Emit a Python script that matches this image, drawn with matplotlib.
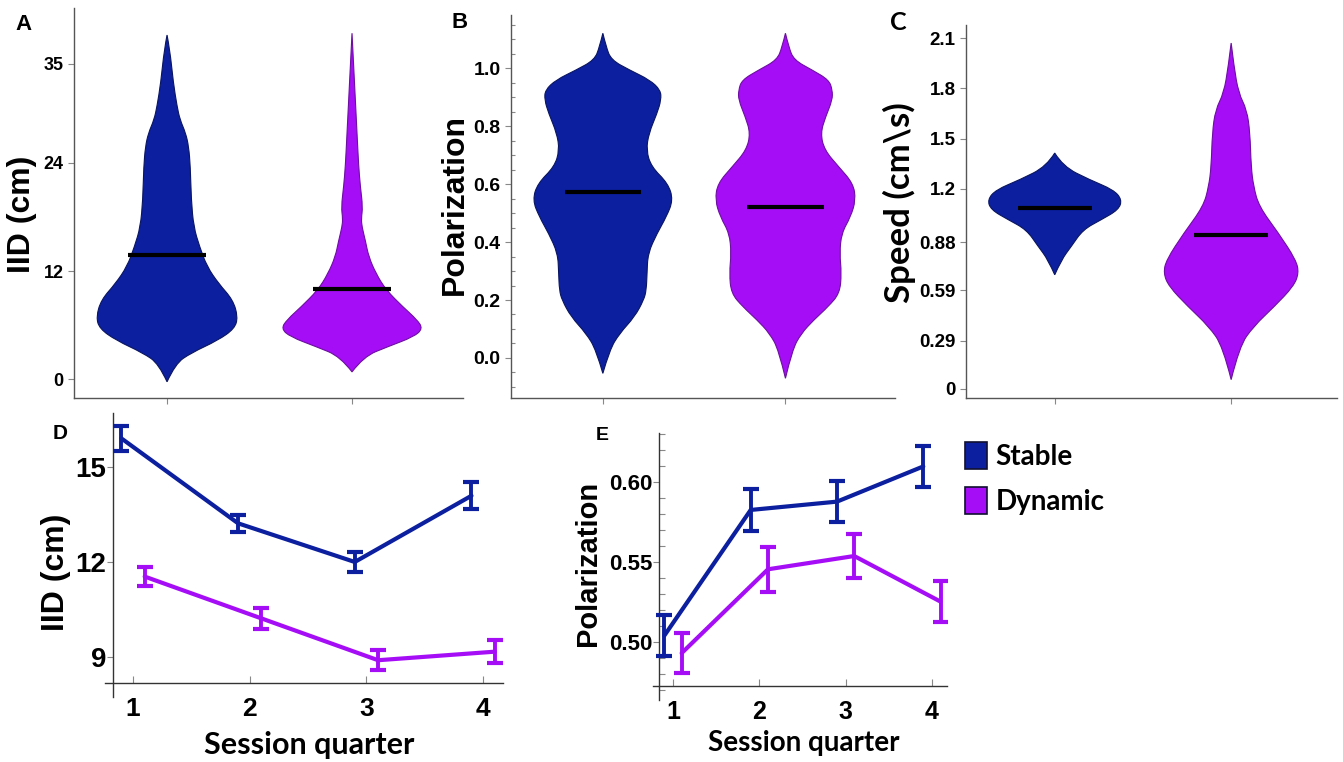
import matplotlib
matplotlib.use("Agg")
import matplotlib.pyplot as plt
import matplotlib.font_manager as fm
from matplotlib.path import Path
from matplotlib.patches import PathPatch, Patch
from matplotlib.ticker import MultipleLocator

# ---- data ----
groups = ["Stable", "Dynamic"]

# violin outlines: values (top -> bottom) and half widths (x units)
iid_stable_y = [38.2, 36.6, 32.9, 30.3, 28.8, 27.3, 25.8, 23.6, 19.9, 16.9, 14.7, 12.5,
                10.6, 8.8, 6.9, 5.6, 4.3, 2.9, 1.7, -0.3]
iid_stable_w = [0, 0.015, 0.034, 0.054, 0.070, 0.101, 0.117, 0.126, 0.131, 0.144, 0.176,
                0.216, 0.279, 0.356, 0.383, 0.365, 0.275, 0.130, 0.045, 0]
iid_dyn_y = [38.4, 34.7, 31.0, 27.3, 23.6, 21.4, 19.1, 17.8, 16.9, 15.4, 13.6, 11.7, 9.9,
             8.0, 6.6, 5.6, 4.7, 3.6, 2.5, 0.8]
iid_dyn_w = [0, 0.009, 0.018, 0.027, 0.036, 0.045, 0.058, 0.050, 0.054, 0.072, 0.090,
             0.130, 0.184, 0.276, 0.351, 0.383, 0.334, 0.194, 0.063, 0]
iid_means = [13.8, 10.0]

pol_stable_y = [1.120, 1.073, 1.028, 0.993, 0.959, 0.924, 0.890, 0.844, 0.775, 0.717, 0.660,
                0.602, 0.545, 0.487, 0.430, 0.361, 0.292, 0.234, 0.200, 0.142, 0.085, 0.028, -0.053]
pol_stable_w = [0, 0.018, 0.046, 0.147, 0.257, 0.316, 0.319, 0.297, 0.252, 0.238, 0.265,
                0.357, 0.385, 0.348, 0.297, 0.247, 0.242, 0.238, 0.224, 0.174, 0.092, 0.037, 0]
pol_dyn_y = [1.120, 1.073, 1.028, 0.993, 0.959, 0.924, 0.890, 0.832, 0.775, 0.717, 0.660,
             0.602, 0.545, 0.487, 0.430, 0.361, 0.292, 0.223, 0.177, 0.131, 0.085, 0.028, -0.070]
pol_dyn_w = [0, 0.018, 0.046, 0.147, 0.238, 0.257, 0.257, 0.220, 0.192, 0.214, 0.291,
             0.371, 0.385, 0.357, 0.307, 0.297, 0.307, 0.297, 0.234, 0.155, 0.087, 0.037, 0]
pol_means = [0.573, 0.522]

spd_stable_y = [1.413, 1.333, 1.253, 1.193, 1.134, 1.074, 1.014, 0.954, 0.854, 0.774, 0.684]
spd_stable_w = [0, 0.047, 0.198, 0.333, 0.381, 0.362, 0.264, 0.160, 0.094, 0.038, 0]
spd_dyn_y = [2.072, 1.932, 1.772, 1.672, 1.533, 1.333, 1.213, 1.093, 0.934, 0.774, 0.694,
             0.614, 0.494, 0.375, 0.255, 0.056]
spd_dyn_w = [0, 0.016, 0.042, 0.089, 0.107, 0.113, 0.127, 0.158, 0.268, 0.367, 0.384,
             0.353, 0.245, 0.127, 0.047, 0]
spd_means = [1.084, 0.92]
spd_ticks = [0, 0.29, 0.59, 0.88, 1.2, 1.5, 1.8, 2.1]
spd_ticklabels = ["0", "0.29", "0.59", "0.88", "1.2", "1.5", "1.8", "2.1"]

quarters = [1, 2, 3, 4]
iid_q_stable = [15.9, 13.22, 12.0, 14.09]
iid_q_stable_err = [0.4, 0.27, 0.33, 0.42]
iid_q_dyn = [11.54, 10.22, 8.9, 9.17]
iid_q_dyn_err = [0.3, 0.33, 0.32, 0.36]

pol_q_stable = [0.504, 0.5825, 0.5877, 0.6097]
pol_q_stable_err = [0.0127, 0.013, 0.013, 0.013]
pol_q_dyn = [0.493, 0.5454, 0.5537, 0.5252]
pol_q_dyn_err = [0.0127, 0.014, 0.014, 0.013]

# ---- style ----
BLUE = "#0B1F9F"
PURPLE = "#A60DF7"
BLUE_EDGE = "#0a1560"
PURPLE_EDGE = "#6c0fa0"
AXC = "#555555"

names = {f.name for f in fm.fontManager.ttflist}
ARIAL = "Liberation Sans"
NARROW = "Liberation Sans Narrow" if "Liberation Sans Narrow" in names else ARIAL
CAL = "Lato" if "Lato" in names else "DejaVu Sans"
narrow_ok = NARROW != ARIAL

W, H = 1343, 762
fig = plt.figure(figsize=(W / 100, H / 100), dpi=100)


def box(l, r, t, b):
    return [l / W, 1 - b / H, (r - l) / W, (b - t) / H]


def violin(ax, x0, ys, ws, fc, ec):
    right = [(x0 + w, y) for y, w in zip(ys, ws)]
    left = [(x0 - w, y) for y, w in zip(ys, ws)][::-1]
    top = (x0, ys[0])
    bot = (x0, ys[-1])
    verts = [top]
    codes = [Path.MOVETO]
    for side, end in ((right[1:-1], bot), (left[1:-1], top)):
        for i, q in enumerate(side):
            if i < len(side) - 1:
                nxt = ((q[0] + side[i + 1][0]) / 2, (q[1] + side[i + 1][1]) / 2)
            else:
                nxt = end
            verts += [q, nxt]
            codes += [Path.CURVE3, Path.CURVE3]
    verts.append(top)
    codes.append(Path.CLOSEPOLY)
    ax.add_patch(PathPatch(Path(verts, codes), fc=fc, ec=ec, lw=0.8, zorder=2))


def top_axes(rect, ylim):
    ax = fig.add_axes(rect)
    for s in ["top", "right"]:
        ax.spines[s].set_visible(False)
    for s in ["left", "bottom"]:
        ax.spines[s].set_color(AXC)
        ax.spines[s].set_linewidth(1.0)
    ax.set_xlim(0.497, 2.6)
    ax.set_ylim(*ylim)
    ax.set_xticks([1, 2])
    ax.set_xticklabels([])
    ax.tick_params(axis="both", which="major", direction="out", length=4, color="#888888", width=0.8)
    return ax


def violins(ax, data, means):
    for i, (ys, ws) in enumerate(data):
        fc = BLUE if i == 0 else PURPLE
        ec = BLUE_EDGE if i == 0 else PURPLE_EDGE
        violin(ax, i + 1, ys, ws, fc, ec)
        ax.hlines(means[i], i + 1 - 0.21, i + 1 + 0.21, color="black", lw=3, zorder=3)


# ---- A ----
axA = top_axes(box(74, 463, 8, 398), (-2.1, 41.2))
violins(axA, [(iid_stable_y, iid_stable_w), (iid_dyn_y, iid_dyn_w)], iid_means)
axA.set_yticks([0, 12, 24, 35])
axA.set_yticklabels(["0", "12", "24", "35"], fontfamily=ARIAL, fontweight="bold", fontsize=13)
axA.set_ylabel("IID (cm)", fontfamily=ARIAL, fontweight="bold", fontsize=23, va="center")
axA.yaxis.set_label_coords(-0.134, 0.47)

# ---- B ----
axB = top_axes(box(511, 895, 15, 398), (-0.138, 1.183))
violins(axB, [(pol_stable_y, pol_stable_w), (pol_dyn_y, pol_dyn_w)], pol_means)
axB.set_yticks([0.0, 0.2, 0.4, 0.6, 0.8, 1.0])
axB.set_yticklabels(["0.0", "0.2", "0.4", "0.6", "0.8", "1.0"], fontfamily=ARIAL,
                    fontweight="bold", fontsize=14)
axB.yaxis.set_minor_locator(MultipleLocator(0.05))
axB.tick_params(axis="y", which="minor", direction="in", length=3, color="#888888", width=0.8)
axB.set_ylabel("Polarization", fontfamily=ARIAL, fontweight="bold", fontsize=23, va="center")
axB.yaxis.set_label_coords(-0.146, 0.504)

# ---- C ----
axC = top_axes(box(966, 1337, 25, 398), (-0.054, 2.18))
violins(axC, [(spd_stable_y, spd_stable_w), (spd_dyn_y, spd_dyn_w)], spd_means)
axC.set_yticks(spd_ticks)
axC.set_yticklabels(spd_ticklabels, fontfamily=ARIAL, fontweight="bold", fontsize=13.5)
axC.set_ylabel("Speed (cm\\s)", fontfamily=CAL, fontweight="bold", fontsize=25, va="center")
axC.yaxis.set_label_coords(-0.18, 0.523)


# ---- bottom line panels ----
def line_axes(rect, xlim, ylim, x0, y0):
    ax = fig.add_axes(rect)
    for s in ["top", "right"]:
        ax.spines[s].set_visible(False)
    for s in ["left", "bottom"]:
        ax.spines[s].set_color("#333333")
        ax.spines[s].set_linewidth(1.0)
    ax.spines["left"].set_position(("data", x0))
    ax.spines["bottom"].set_position(("data", y0))
    ax.set_xlim(*xlim)
    ax.set_ylim(*ylim)
    ax.set_xticks(quarters)
    ax.tick_params(axis="x", direction="in", length=5, color="#888888", width=0.8, pad=10)
    ax.tick_params(axis="y", which="major", direction="out", length=4, color="#888888", width=0.8, pad=1)
    return ax


def series(ax, vals, errs, offset, color):
    xs = [q + offset for q in quarters]
    ax.plot(xs, vals, color=color, lw=3, zorder=3, solid_capstyle="round")
    ax.errorbar(xs, vals, yerr=errs, fmt="none", ecolor=color, elinewidth=2.8,
                capsize=5.5, capthick=3, zorder=4)


# D
axD = line_axes(box(105, 503, 413, 697), (0.76, 4.17), (7.74, 16.7), 0.83, 8.18)
series(axD, iid_q_stable, iid_q_stable_err, -0.1, BLUE)
series(axD, iid_q_dyn, iid_q_dyn_err, 0.1, PURPLE)
axD.set_yticks([9, 12, 15])
axD.set_yticklabels(["9", "12", "15"], fontfamily=ARIAL, fontweight="bold", fontsize=20)
axD.set_xticklabels([str(q) for q in quarters], fontfamily=ARIAL, fontweight="bold", fontsize=19)
axD.set_ylabel("IID (cm)", fontfamily=ARIAL, fontweight="bold", fontsize=23, va="center")
axD.yaxis.set_label_coords(-0.123, 0.44)
axD.set_xlabel("Session quarter", fontfamily=CAL, fontweight="bold", fontsize=22, va="center")
axD.xaxis.set_label_coords(0.513, -0.169)

# E
tick_e = 19 if narrow_ok else 16
axE = line_axes(box(653, 947, 433, 700), (0.768, 4.175), (0.4637, 0.6306), 0.838, 0.4725)
series(axE, pol_q_stable, pol_q_stable_err, -0.1, BLUE)
series(axE, pol_q_dyn, pol_q_dyn_err, 0.1, PURPLE)
axE.set_yticks([0.50, 0.55, 0.60])
axE.set_yticklabels(["0.50", "0.55", "0.60"], fontfamily=NARROW, fontweight="bold", fontsize=tick_e)
axE.yaxis.set_minor_locator(MultipleLocator(0.01))
axE.tick_params(axis="y", which="minor", direction="in", length=4, color="#888888", width=0.8)
axE.set_xticklabels([str(q) for q in quarters], fontfamily=NARROW, fontweight="bold", fontsize=tick_e + 2)
axE.set_ylabel("Polarization", fontfamily=ARIAL, fontweight="bold", fontsize=21, va="center")
axE.yaxis.set_label_coords(-0.222, 0.513)
axE.set_xlabel("Session quarter", fontfamily=CAL, fontweight="bold", fontsize=20, va="center")
axE.xaxis.set_label_coords(0.514, -0.161)

# legend
handles = [Patch(facecolor=BLUE, edgecolor="#101030", lw=1.2, label=groups[0]),
           Patch(facecolor=PURPLE, edgecolor="#101030", lw=1.2, label=groups[1])]
fig.legend(handles=handles, loc="upper left", bbox_to_anchor=(965 / W, 1 - 442 / H),
           frameon=False, borderpad=0, borderaxespad=0, handlelength=0.8, handleheight=1.1,
           handletextpad=0.3, labelspacing=0.62,
           prop=dict(family=CAL, weight="bold", size=20))

# panel letters
for letter, (px, py), fam, size in [("A", (24, 25), ARIAL, 16), ("B", (460, 23), ARIAL, 16),
                                    ("C", (898, 23), CAL, 18), ("D", (60, 434), ARIAL, 15),
                                    ("E", (602, 435), NARROW, 14)]:
    fig.text(px / W, 1 - py / H, letter, fontfamily=fam, fontweight="bold", fontsize=size,
             ha="center", va="center")

fig.savefig("out.png", dpi=100)
